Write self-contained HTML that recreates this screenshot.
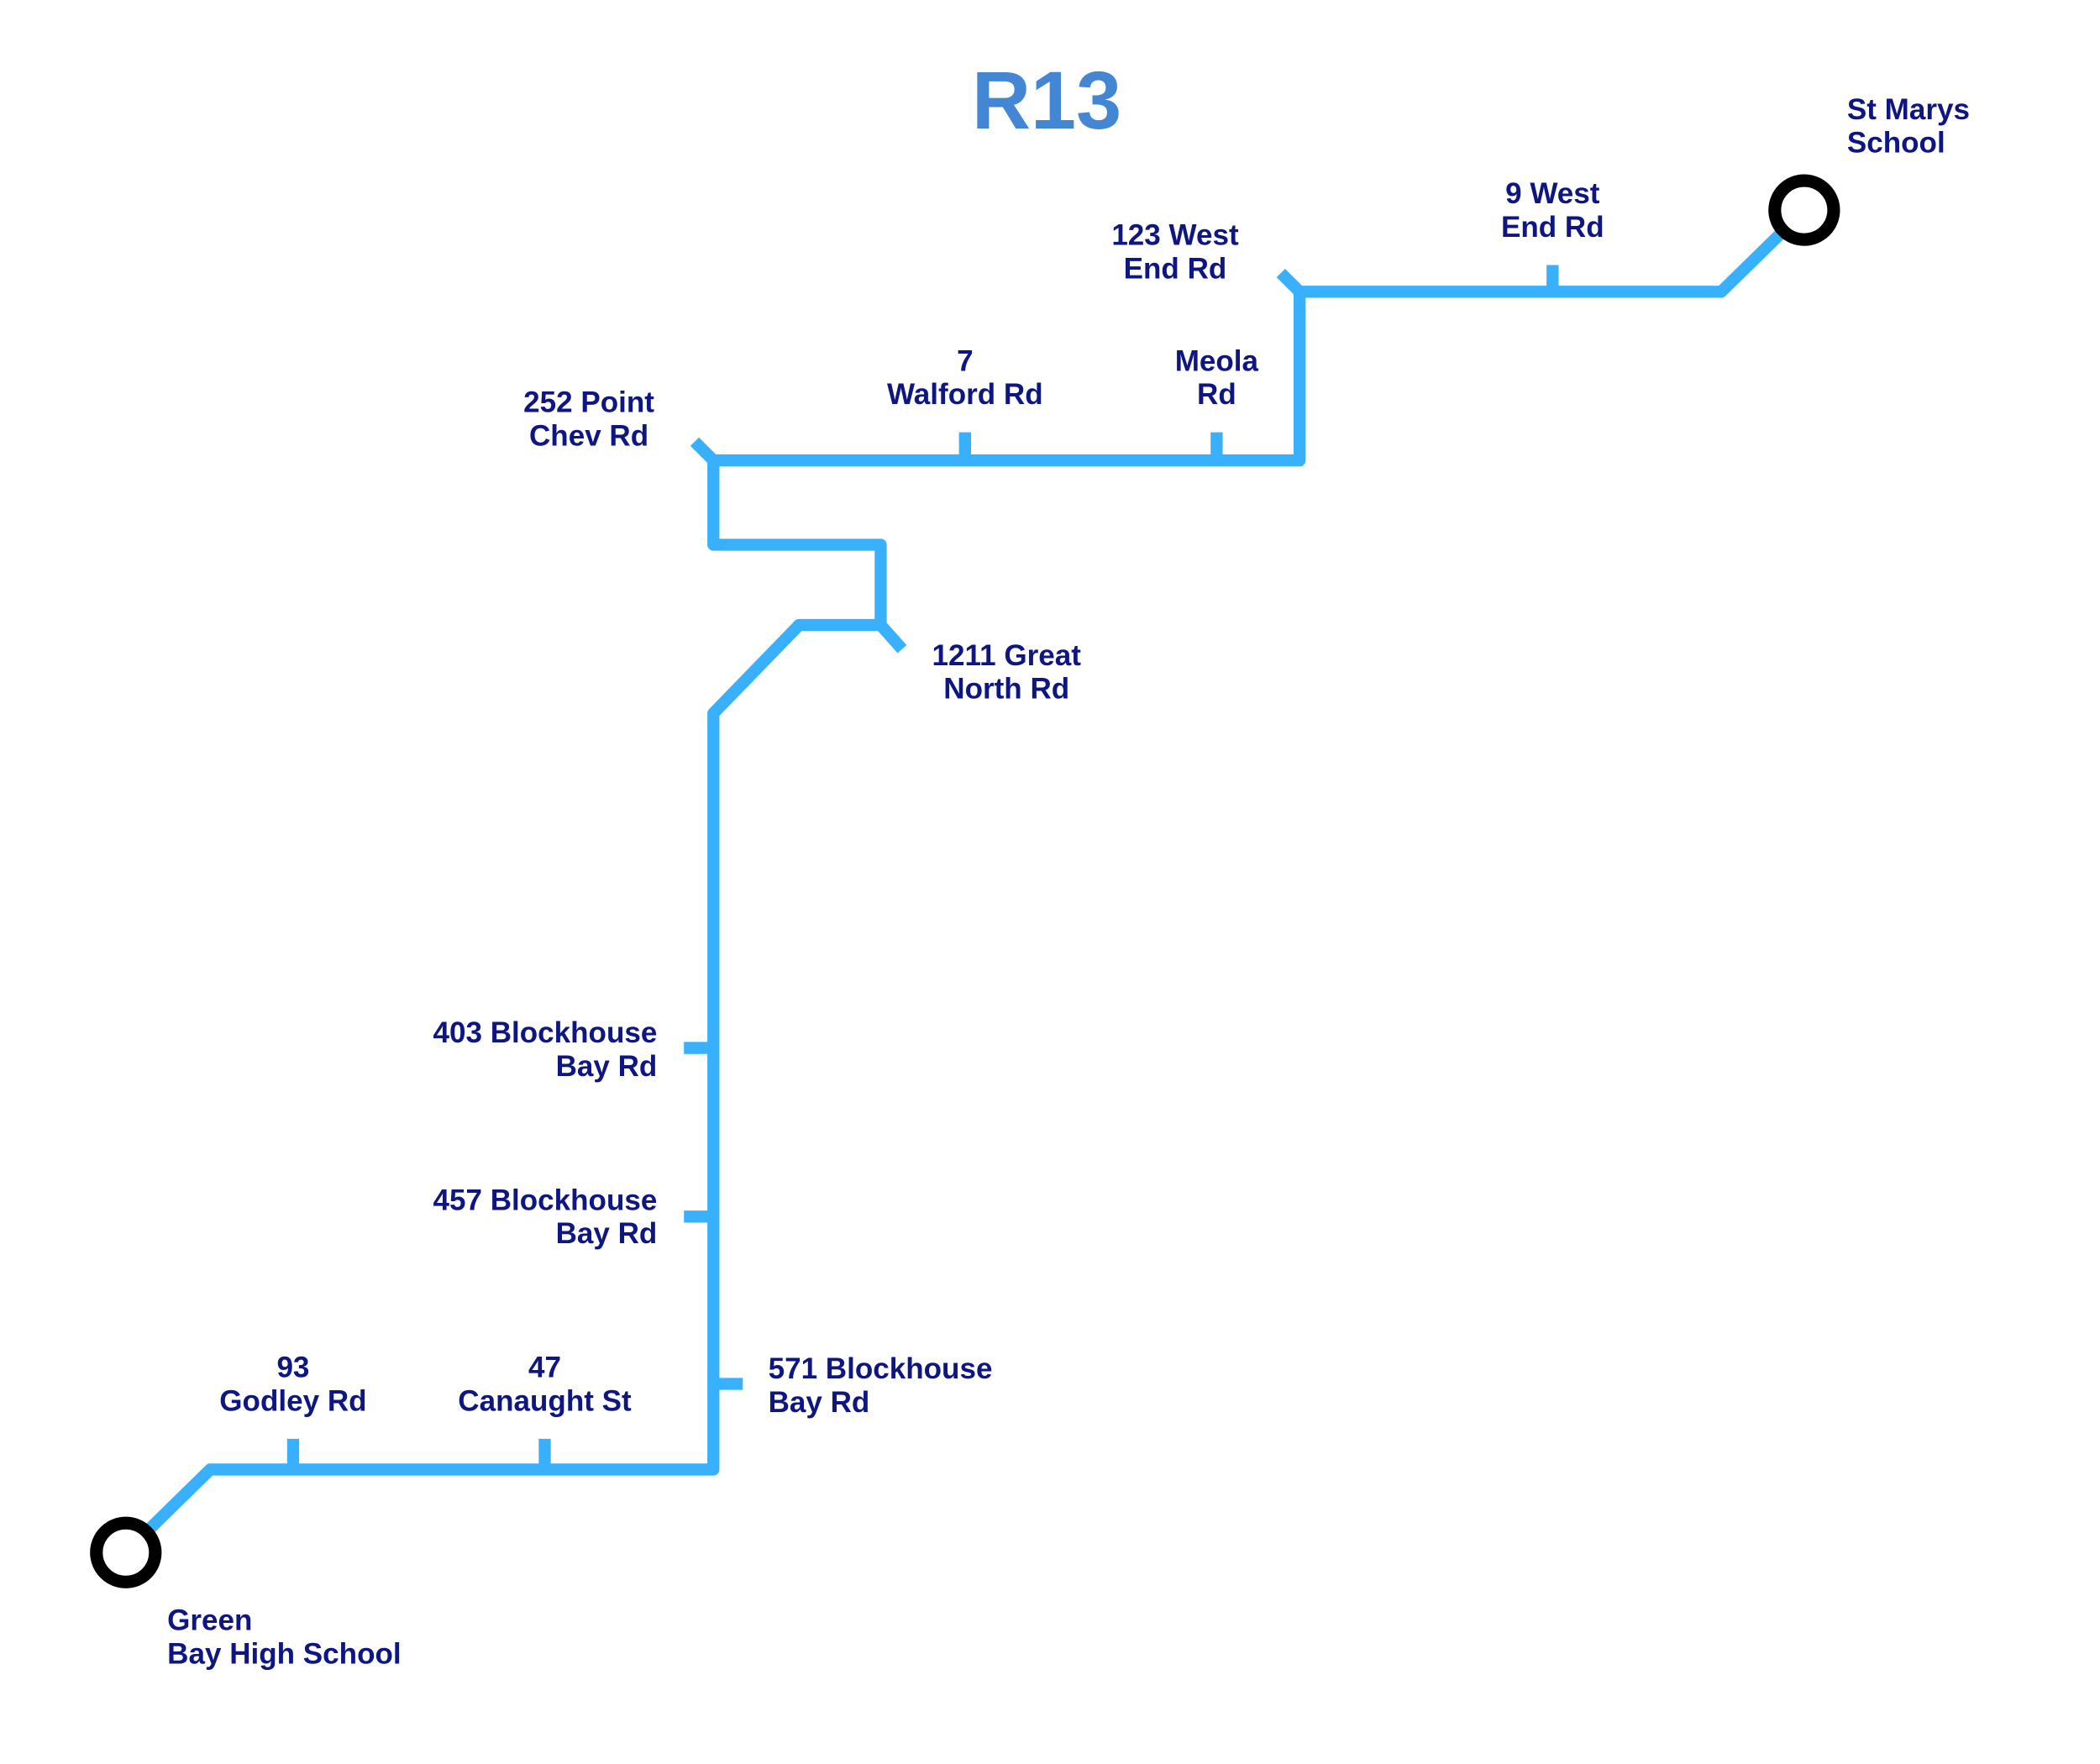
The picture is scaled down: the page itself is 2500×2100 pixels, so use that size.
<!DOCTYPE html>
<html><head><meta charset="utf-8"><style>
html,body{margin:0;padding:0;background:#fff;}
svg{display:block;}
.l{font-family:"Liberation Sans Narrow","Liberation Sans",sans-serif;font-weight:bold;font-size:22px;fill:#0d1681;}
</style></head><body>
<svg width="2500" height="2100" viewBox="0 0 1569 1318" preserveAspectRatio="none" xmlns="http://www.w3.org/2000/svg">
<rect width="1569" height="1318" fill="#fff"/>
<text x="782" y="96" text-anchor="middle" font-family="Liberation Sans, sans-serif" font-weight="bold" font-size="61" fill="#4286d4">R13</text>
<g fill="none" stroke="#38b0fc" stroke-width="9" stroke-linejoin="round">
<polyline points="1335,170 1286,218 971,218 971,344 533,344 533,407 658,407 658,467 597,467 533,533 533,1098 157,1098 106,1148"/>
<line x1="957" y1="204" x2="971" y2="218"/>
<line x1="519" y1="330" x2="533" y2="344"/>
<line x1="658" y1="467" x2="674" y2="485"/>
<line x1="1160" y1="198" x2="1160" y2="218"/>
<line x1="909" y1="323" x2="909" y2="344"/>
<line x1="721" y1="323" x2="721" y2="344"/>
<line x1="219" y1="1075" x2="219" y2="1098"/>
<line x1="407" y1="1075" x2="407" y2="1098"/>
<line x1="511" y1="783" x2="533" y2="783"/>
<line x1="511" y1="909" x2="533" y2="909"/>
<line x1="533" y1="1034" x2="555" y2="1034"/>
</g>
<circle cx="1348" cy="157" r="22" fill="#fff" stroke="#000" stroke-width="9.5"/>
<circle cx="94" cy="1160" r="22" fill="#fff" stroke="#000" stroke-width="9.5"/>
<g class="l">
<text x="1380" y="89">St Marys</text><text x="1380" y="114">School</text>
<text x="1160" y="152" text-anchor="middle">9 West</text><text x="1160" y="177" text-anchor="middle">End Rd</text>
<text x="878" y="183" text-anchor="middle">123 West</text><text x="878" y="208" text-anchor="middle">End Rd</text>
<text x="721" y="277" text-anchor="middle">7</text><text x="721" y="302" text-anchor="middle">Walford Rd</text>
<text x="909" y="277" text-anchor="middle">Meola</text><text x="909" y="302" text-anchor="middle">Rd</text>
<text x="440" y="308" text-anchor="middle">252 Point</text><text x="440" y="333" text-anchor="middle">Chev Rd</text>
<text x="752" y="497" text-anchor="middle">1211 Great</text><text x="752" y="522" text-anchor="middle">North Rd</text>
<text x="491" y="779" text-anchor="end">403 Blockhouse</text><text x="491" y="804" text-anchor="end">Bay Rd</text>
<text x="491" y="904" text-anchor="end">457 Blockhouse</text><text x="491" y="929" text-anchor="end">Bay Rd</text>
<text x="574" y="1030">571 Blockhouse</text><text x="574" y="1055">Bay Rd</text>
<text x="219" y="1029" text-anchor="middle">93</text><text x="219" y="1054" text-anchor="middle">Godley Rd</text>
<text x="407" y="1029" text-anchor="middle">47</text><text x="407" y="1054" text-anchor="middle">Canaught St</text>
<text x="125" y="1218">Green</text><text x="125" y="1243">Bay High School</text>
</g>
</svg>
</body></html>
